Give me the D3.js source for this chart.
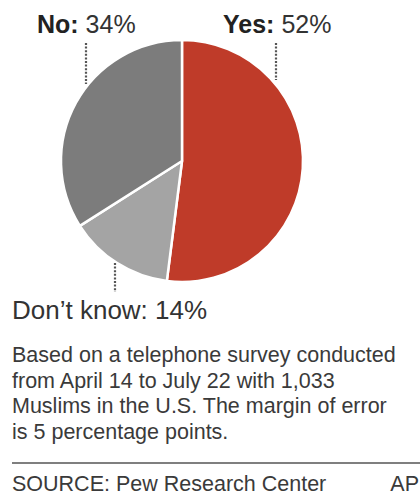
<!DOCTYPE html>
<html>
<head>
<meta charset="utf-8">
<script src="https://cdn.jsdelivr.net/npm/d3@7"></script>
<style>
  body { margin: 0; background: #fff; }
  text { font-family: Arial, "Liberation Sans", sans-serif; }
</style>
</head>
<body>
<div id="chart"></div>
<script>
// survey answers, in drawing order (clockwise from 12 o'clock)
var answers = ["Yes", "Don\u2019t know", "No"];
var shares = [52, 14, 34];
var colors = ["#bf3b29", "#a4a4a4", "#7c7c7c"];

var note = [
    "Based on a telephone survey conducted",
    "from April 14 to July 22 with 1,033",
    "Muslims in the U.S. The margin of error",
    "is 5 percentage points."
];
var source = "SOURCE: Pew Research Center";
var credit = "AP";

var width = 420, height = 496;
var cx = 182, cy = 161, radius = 121;

var svg = d3.select("#chart")
    .append("svg")
    .attr("width", width)
    .attr("height", height);

var data = answers.map(function (a, i) {
    return { answer: a, share: shares[i], color: colors[i] };
});

var pie = d3.pie()
    .sort(null)
    .value(function (d) { return d.share; });

var arc = d3.arc()
    .innerRadius(0)
    .outerRadius(radius);

var g = svg.append("g")
    .attr("transform", "translate(" + cx + "," + cy + ")");

g.selectAll("path")
    .data(pie(data))
    .join("path")
    .attr("d", arc)
    .attr("fill", function (d) { return d.data.color; })
    .attr("stroke", "#fff")
    .attr("stroke-width", 2.5)
    .attr("stroke-linejoin", "round");

// dotted leader lines
var leaders = [
    { x: 276, y1: 43, y2: 80 },
    { x: 86, y1: 43, y2: 84 },
    { x: 115, y1: 263, y2: 292 }
];
svg.selectAll("line.leader")
    .data(leaders)
    .join("line")
    .attr("class", "leader")
    .attr("x1", function (d) { return d.x; })
    .attr("x2", function (d) { return d.x; })
    .attr("y1", function (d) { return d.y1; })
    .attr("y2", function (d) { return d.y2; })
    .attr("stroke", "#555")
    .attr("stroke-width", 2.2)
    .attr("stroke-dasharray", "2,1.6");

// slice labels
function label(x, y, bold, rest, size) {
    var t = svg.append("text")
        .attr("x", x)
        .attr("y", y)
        .style("font-size", size + "px")
        .style("fill", "#333");
    if (bold) {
        t.append("tspan")
            .style("font-weight", 700)
            .style("fill", "#222")
            .text(bold + ": ");
    }
    t.append("tspan").text(rest);
}

label(37, 33, answers[2], shares[2] + "%", 25);
label(223, 33, answers[0], shares[0] + "%", 25);
label(12, 319, null, answers[1] + ": " + shares[1] + "%", 26);

// footnote
svg.append("text")
    .attr("x", 12)
    .style("font-size", "21.5px")
    .style("fill", "#3a3a3a")
    .selectAll("tspan")
    .data(note)
    .join("tspan")
    .attr("x", 12)
    .attr("y", function (d, i) { return 362 + i * 25.5; })
    .text(function (d) { return d; });

svg.append("line")
    .attr("x1", 12)
    .attr("x2", width)
    .attr("y1", 463)
    .attr("y2", 463)
    .attr("stroke", "#555")
    .attr("stroke-width", 1.5);

svg.append("text")
    .attr("x", 12)
    .attr("y", 491)
    .style("font-size", "21.5px")
    .style("fill", "#3a3a3a")
    .text(source);

svg.append("text")
    .attr("x", 419)
    .attr("y", 491)
    .attr("text-anchor", "end")
    .style("font-size", "21.5px")
    .style("fill", "#3a3a3a")
    .text(credit);
</script>
</body>
</html>
